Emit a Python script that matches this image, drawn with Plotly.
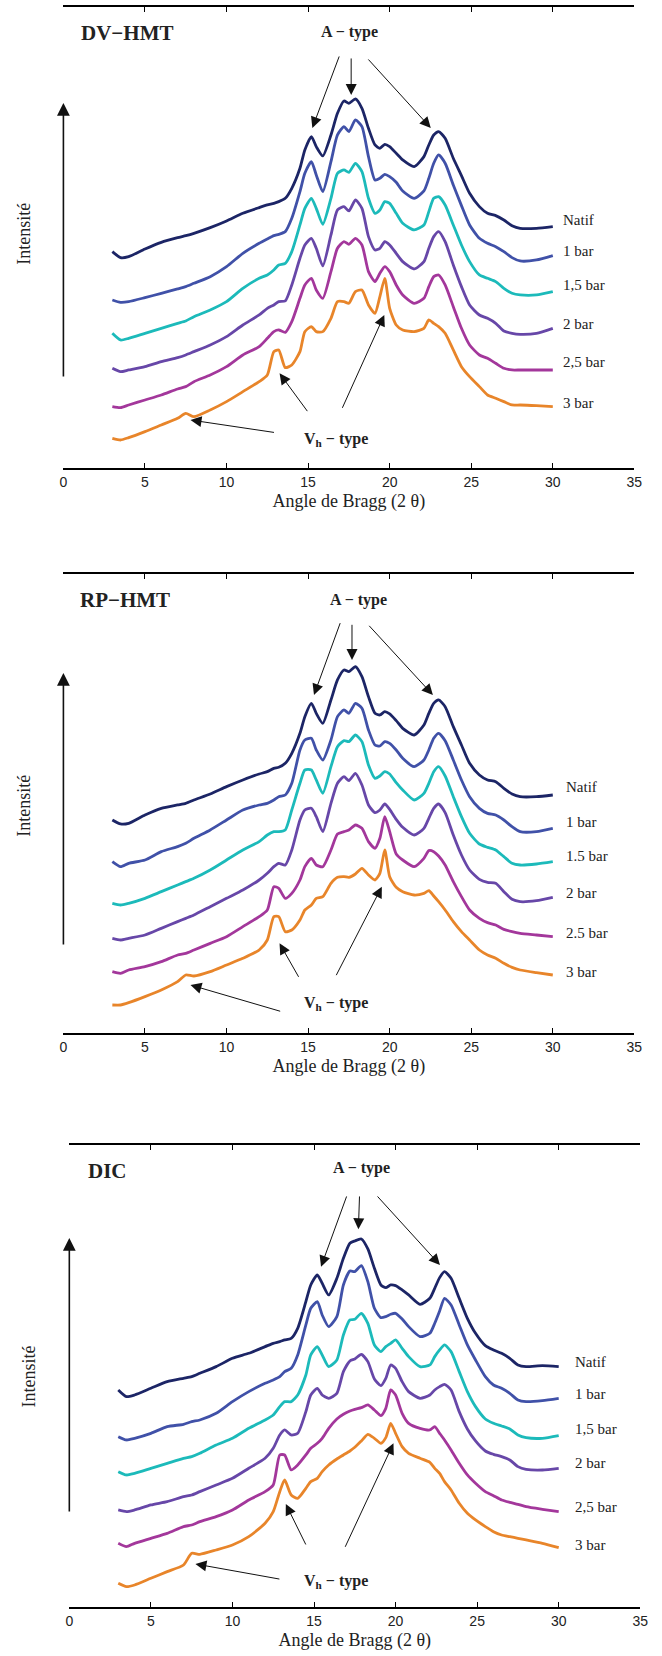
import plotly.graph_objects as go

# Bragg angle grid (2 theta, degrees)
X = [3, 3.5, 4, 5, 6, 7, 7.5, 8, 9, 10, 11, 12, 12.5, 12.9, 13.2, 13.6, 14, 14.5, 14.8, 15.2,
     15.5, 15.9, 16.4, 16.8, 17.2, 17.5, 17.9, 18.3, 18.7, 19.1, 19.4, 19.7, 20.0, 20.4, 20.8,
     21.5, 22.1, 22.4, 22.7, 23.0, 23.4, 23.9, 24.4, 24.9, 25.5, 26.0, 26.5, 27.0, 27.5, 28, 29, 30]

# ---------------- DV-HMT (intensity, arbitrary units, curves already offset) ----------------
dv_natif = [649, 631, 634, 657, 677, 691, 697, 704, 721, 741, 764, 781, 789, 794, 799, 809, 839, 899, 954, 994,
            964, 936, 999, 1064, 1101, 1094, 1107, 1079, 1019, 969, 959, 971, 964, 944, 924,
            904, 934, 969, 999, 1009, 989, 929, 877, 824, 784, 764, 757, 744, 727, 719, 719, 724]
dv_1bar = [504, 497, 499, 511, 524, 537, 544, 554, 574, 604, 644, 674, 687, 697, 701, 709, 749, 829, 884, 919,
           879, 829, 919, 999, 1024, 1009, 1044, 1024, 934, 864, 869, 881, 874, 857, 831,
           809, 831, 869, 914, 939, 914, 849, 787, 729, 689, 674, 664, 649, 631, 621, 624, 637]
dv_15bar = [404, 384, 389, 404, 419, 434, 441, 454, 474, 499, 539, 569, 579, 594, 609, 614, 649, 729, 779, 809,
            779, 731, 809, 884, 894, 887, 914, 889, 809, 764, 774, 799, 794, 764, 734,
            714, 729, 769, 809, 814, 789, 729, 669, 619, 579, 569, 559, 539, 524, 519, 519, 529]
dv_2bar = [299, 289, 294, 304, 319, 331, 339, 349, 369, 394, 429, 459, 479, 489, 499, 501, 549, 629, 669, 689,
           659, 606, 699, 774, 784, 771, 804, 779, 694, 654, 659, 679, 669, 644, 619,
           597, 619, 659, 694, 709, 679, 609, 544, 489, 459, 449, 434, 411, 404, 401, 404, 419]
dv_25bar = [184, 181, 189, 204, 219, 237, 244, 259, 279, 304, 339, 364, 389, 409, 414, 407, 439, 509, 549, 569,
            534, 509, 589, 659, 679, 671, 689, 669, 589, 559, 584, 604, 589, 549, 519,
            494, 509, 544, 574, 579, 549, 484, 419, 369, 339, 329, 314, 299, 294, 294, 294, 294]
dv_3bar = [89, 84, 91, 109, 129, 149, 164, 154, 174, 199, 229, 259, 279, 349, 354, 301, 309, 349, 409, 424,
           409, 409, 449, 499, 499, 494, 529, 534, 489, 464, 514, 569, 479, 429, 414,
           409, 419, 444, 434, 424, 404, 354, 304, 274, 244, 219, 209, 199, 189, 189, 187, 184]

# ---------------- RP-HMT ----------------
rp_natif = [639, 627, 629, 654, 674, 684, 689, 699, 717, 739, 759, 777, 784, 794, 797, 809, 839, 899, 949, 989,
            959, 929, 999, 1059, 1089, 1084, 1099, 1069, 1009, 959, 954, 964, 957, 937, 914,
            894, 924, 959, 989, 999, 979, 919, 864, 809, 774, 759, 754, 734, 717, 709, 709, 714]
rp_1bar = [514, 499, 509, 519, 544, 559, 569, 584, 609, 639, 669, 684, 689, 699, 709, 714, 749, 849, 879, 884,
           849, 819, 879, 949, 969, 959, 989, 974, 909, 864, 861, 874, 869, 849, 824,
           799, 819, 849, 884, 899, 877, 819, 759, 709, 674, 659, 654, 639, 619, 604, 604, 614]
rp_15bar = [389, 384, 389, 404, 424, 444, 454, 464, 489, 519, 549, 574, 594, 604, 604, 609, 669, 749, 789, 789,
            759, 719, 799, 859, 877, 874, 894, 874, 804, 764, 771, 784, 777, 751, 729,
            699, 719, 749, 784, 799, 771, 709, 649, 599, 567, 557, 549, 529, 509, 504, 507, 514]
rp_2bar = [284, 279, 284, 294, 314, 334, 344, 354, 379, 404, 429, 459, 479, 499, 509, 504, 549, 639, 669, 674,
           649, 604, 689, 749, 769, 757, 779, 744, 684, 661, 669, 687, 671, 641, 617,
           594, 614, 644, 674, 687, 661, 594, 534, 489, 461, 452, 449, 424, 401, 394, 397, 407]
rp_25bar = [184, 179, 189, 199, 214, 234, 239, 249, 269, 289, 319, 349, 369, 439, 434, 404, 419, 459, 499, 524,
            504, 499, 549, 597, 604, 609, 624, 614, 574, 554, 584, 649, 604, 537, 519,
            499, 524, 547, 544, 531, 504, 454, 409, 369, 344, 331, 324, 311, 304, 299, 294, 289]
rp_3bar = [84, 84, 91, 109, 129, 154, 174, 171, 184, 204, 224, 249, 279, 349, 349, 304, 309, 339, 369, 384,
           404, 409, 449, 467, 469, 467, 477, 494, 474, 459, 479, 549, 469, 437, 424,
           414, 419, 427, 411, 394, 369, 334, 304, 279, 249, 234, 224, 209, 197, 189, 181, 174]

# ---------------- DIC ----------------
dic_natif = [651, 631, 636, 656, 676, 686, 691, 701, 721, 746, 761, 781, 791, 796, 801, 806, 836, 916, 966, 996,
             971, 936, 986, 1046, 1091, 1098, 1104, 1074, 1016, 966, 958, 966, 964, 951, 936,
             908, 926, 956, 988, 1006, 986, 926, 866, 821, 784, 771, 761, 746, 726, 721, 724, 721]
dic_1bar = [511, 501, 506, 521, 541, 548, 556, 561, 581, 616, 646, 671, 681, 691, 706, 716, 756, 846, 896, 916,
            876, 841, 871, 966, 1008, 1006, 1024, 976, 896, 868, 871, 878, 881, 864, 841,
            811, 821, 851, 888, 926, 906, 846, 786, 741, 691, 666, 656, 641, 621, 616, 619, 626]
dic_15bar = [406, 396, 401, 416, 431, 446, 451, 461, 486, 506, 536, 561, 576, 601, 616, 616, 636, 696, 756, 781,
             756, 721, 741, 816, 861, 863, 881, 851, 786, 766, 781, 791, 801, 776, 751,
             721, 726, 751, 771, 786, 766, 706, 646, 601, 564, 551, 543, 534, 516, 508, 506, 514]
dic_2bar = [291, 286, 291, 306, 316, 331, 336, 346, 366, 386, 416, 446, 476, 516, 531, 516, 521, 586, 636, 656,
            636, 626, 641, 706, 738, 744, 758, 736, 684, 664, 686, 726, 716, 676, 646,
            626, 636, 651, 661, 668, 651, 586, 534, 498, 468, 458, 451, 441, 421, 413, 411, 416]
dic_25bar = [191, 181, 191, 206, 221, 241, 246, 256, 271, 291, 321, 346, 366, 456, 456, 411, 426, 456, 476, 491,
             506, 536, 564, 578, 588, 593, 598, 606, 591, 574, 596, 651, 636, 581, 551,
             536, 531, 541, 521, 501, 471, 431, 396, 371, 346, 334, 321, 314, 308, 301, 293, 286]
dic_3bar = [71, 61, 66, 86, 106, 126, 161, 158, 171, 186, 211, 251, 286, 346, 381, 336, 326, 356, 376, 386,
            406, 426, 444, 456, 468, 479, 498, 518, 506, 491, 508, 551, 521, 481, 461,
            446, 434, 416, 401, 376, 351, 311, 281, 261, 241, 226, 216, 211, 206, 201, 191, 178]

COLORS = ["#1c2566", "#4051a8", "#1cbaba", "#6747a8", "#a3379b", "#e8852a"]

panels = [
    {"name": "DV\u2212HMT", "series": [dv_natif, dv_1bar, dv_15bar, dv_2bar, dv_25bar, dv_3bar],
     "labels": ["Natif", "1 bar", "1,5 bar", "2 bar", "2,5 bar", "3 bar"],
     "label_y": [744, 651, 549, 432, 318, 195], "label_x": 30.5,
     "xdom": [0.0914, 0.9698], "ydom": [0.7174, 0.9958], "ymax": 1383,
     "title_pos": (0.95, 1305), "atype_pos": (17.55, 1308),
     "a_arrows": [((16.94, 1239), (15.26, 1020)), ((17.64, 1233), (17.64, 1119)), ((18.61, 1230), (22.52, 1020))],
     "v_arrows": [((13.0, 106), (7.79, 144)), ((15.02, 166), (13.25, 284)), ((17.06, 176), (19.67, 459))],
     "v_pos": (16.74, 84), "int_arrow": (270, 1095), "int_text_y": 234},
    {"name": "RP\u2212HMT", "series": [rp_natif, rp_1bar, rp_15bar, rp_2bar, rp_25bar, rp_3bar],
     "labels": ["Natif", "1 bar", "1.5 bar", "2 bar", "2.5 bar", "3 bar"],
     "label_y": [738, 633, 531, 420, 300, 183], "label_x": 30.7,
     "xdom": [0.0914, 0.9698], "ydom": [0.3762, 0.6534], "ymax": 1377,
     "title_pos": (0.87, 1299), "atype_pos": (18.1, 1299),
     "a_arrows": [((17.0, 1234), (15.36, 1014)), ((17.69, 1229), (17.69, 1119)), ((18.66, 1226), (22.65, 1014))],
     "v_arrows": [((13.38, 64), (7.79, 144)), ((14.47, 164), (13.25, 269)), ((16.68, 169), (19.52, 439))],
     "v_pos": (16.73, 90), "int_arrow": (261, 1080), "int_text_y": 806},
    {"name": "DIC", "series": [dic_natif, dic_1bar, dic_15bar, dic_2bar, dic_25bar, dic_3bar],
     "labels": ["Natif", "1 bar", "1,5 bar", "2 bar", "2,5 bar", "3 bar"],
     "label_y": [735, 639, 534, 432, 300, 186], "label_x": 30.9,
     "xdom": [0.1005, 0.9789], "ydom": [0.0296, 0.3086], "ymax": 1386,
     "title_pos": (1.02, 1309), "atype_pos": (17.9, 1317),
     "a_arrows": [((17.03, 1236), (15.43, 1021)), ((17.79, 1236), (17.72, 1133)), ((18.81, 1236), (22.72, 1026))],
     "v_arrows": [((12.97, 83), (7.73, 129)), ((14.54, 183), (13.27, 309)), ((16.87, 176), (19.87, 491))],
     "v_pos": (16.37, 76), "int_arrow": (282, 1107), "int_text_y": 1377},
]

SERIF = "Liberation Serif, Times New Roman, serif"
SANS = "Liberation Sans, Arial, sans-serif"

fig = go.Figure()
annotations = []
H = 1656

for i, p in enumerate(panels):
    sfx = "" if i == 0 else str(i + 1)
    xa, ya = "x" + sfx, "y" + sfx
    for ser, col in zip(p["series"], COLORS):
        fig.add_trace(go.Scatter(x=X, y=ser, mode="lines", xaxis=xa, yaxis=ya,
                                 line=dict(color=col, width=2.8, shape="spline", smoothing=0.6),
                                 showlegend=False, hoverinfo="skip"))
    fig.layout["xaxis" + sfx] = dict(
        domain=p["xdom"], range=[0, 35], anchor=ya, tickvals=[0, 5, 10, 15, 20, 25, 30, 35],
        ticks="inside", ticklen=5, tickwidth=1, tickcolor="black",
        showline=True, linecolor="black", linewidth=1.6, mirror="ticks",
        showgrid=False, zeroline=False,
        tickfont=dict(family=SANS, size=14, color="#222"),
        title=dict(text="Angle de Bragg (2 \u03b8)", font=dict(family=SERIF, size=18, color="#222"), standoff=6),
    )
    fig.layout["yaxis" + sfx] = dict(domain=p["ydom"], range=[0, p["ymax"]], anchor=xa, visible=False)

    # series labels
    for lab, ly in zip(p["labels"], p["label_y"]):
        annotations.append(dict(x=p["label_x"], y=ly, xref=xa, yref=ya, text=lab, showarrow=False,
                                xanchor="left", yanchor="middle",
                                font=dict(family=SERIF, size=15, color="#222")))
    # panel title
    annotations.append(dict(x=p["title_pos"][0], y=p["title_pos"][1], xref=xa, yref=ya,
                            text="<b>" + p["name"] + "</b>", showarrow=False, xanchor="left",
                            yanchor="middle", font=dict(family=SERIF, size=21, color="#222")))
    # A-type label and arrows
    annotations.append(dict(x=p["atype_pos"][0], y=p["atype_pos"][1], xref=xa, yref=ya,
                            text="<b>A \u2212 type</b>", showarrow=False, xanchor="center",
                            yanchor="middle", font=dict(family=SERIF, size=16, color="#222")))
    for (tail, tip) in p["a_arrows"] + p["v_arrows"]:
        annotations.append(dict(x=tip[0], y=tip[1], ax=tail[0], ay=tail[1], xref=xa, yref=ya,
                                axref=xa, ayref=ya, text="", showarrow=True, arrowhead=2,
                                arrowsize=2.2, arrowwidth=1, arrowcolor="#111",
                                standoff=0, startstandoff=0))
    annotations.append(dict(x=p["v_pos"][0], y=p["v_pos"][1], xref=xa, yref=ya,
                            text="<b>V<sub>h</sub> \u2212 type</b>", showarrow=False, xanchor="center",
                            yanchor="middle", font=dict(family=SERIF, size=16, color="#222")))
    # intensity arrow + label
    y0, y1 = p["int_arrow"]
    annotations.append(dict(x=0, y=y1, ax=0, ay=y0, xref=xa, yref=ya, axref=xa, ayref=ya,
                            text="", showarrow=True, arrowhead=2, arrowsize=1.6, arrowwidth=1.6,
                            arrowcolor="#111", standoff=0, startstandoff=0))
    annotations.append(dict(x=(20 if i < 2 else 25) / 662, y=1 - p["int_text_y"] / H, xref="paper",
                            yref="paper", text="Intensit\u00e9", textangle=-90, showarrow=False,
                            xanchor="center", yanchor="middle",
                            font=dict(family=SERIF, size=18, color="#222")))

fig.update_layout(width=662, height=1656, autosize=False,
                  margin=dict(l=0, r=0, t=0, b=0),
                  paper_bgcolor="white", plot_bgcolor="white",
                  annotations=annotations, showlegend=False)

fig.write_html("out.html", config={"displayModeBar": False},
               post_script="document.body.style.margin='0px';")
